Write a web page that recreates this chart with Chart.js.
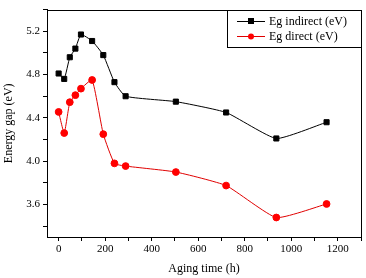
<!DOCTYPE html>
<html>
<head>
<meta charset="UTF-8">
<title>Energy gap vs aging time</title>
<script src="https://cdn.jsdelivr.net/npm/chart.js"></script>
<style>
  html, body { margin: 0; padding: 0; background: #fff; }
  #wrap { width: 366px; height: 278px; }
</style>
</head>
<body>
<div id="wrap"><canvas id="chart" width="366" height="278"></canvas></div>
<script>
// aging time (h)
const hours = [0, 24, 48, 72, 96, 144, 192, 240, 288, 504, 720, 936, 1152];
const egIndirect = [4.81, 4.76, 4.96, 5.04, 5.17, 5.11, 4.98, 4.73, 4.60, 4.55, 4.45, 4.21, 4.36];
const egDirect = [4.455, 4.26, 4.545, 4.61, 4.67, 4.75, 4.25, 3.98, 3.955, 3.90, 3.775, 3.48, 3.605];
const seriesNames = ['Eg indirect (eV)', 'Eg direct (eV)'];

const serif = "'Liberation Serif', 'DejaVu Serif', serif";

function pts(ys) { return hours.map((h, i) => ({ x: h, y: ys[i] })); }

// frame + legend box drawn inside the plot
const frameAndLegend = {
  id: 'frameAndLegend',
  afterDraw(chart) {
    const { ctx, chartArea: a } = chart;
    ctx.save();
    ctx.strokeStyle = '#000';
    ctx.lineWidth = 1;
    ctx.strokeRect(Math.round(a.left) + 0.5, Math.round(a.top) + 0.5, Math.round(a.right - a.left), Math.round(a.bottom - a.top));

    const bx = 227, by = Math.round(a.top), bw = Math.round(a.right) - bx, bh = 37;
    ctx.fillStyle = '#fff';
    ctx.fillRect(bx + 0.5, by + 0.5, bw, bh);
    ctx.strokeRect(bx + 0.5, by + 0.5, bw, bh);
    ctx.font = '12px ' + serif;
    ctx.textBaseline = 'middle';
    chart.data.datasets.forEach((ds, i) => {
      const y = by + 11 + i * 15;
      ctx.strokeStyle = ds.borderColor;
      ctx.beginPath();
      ctx.moveTo(237, y + 0.5);
      ctx.lineTo(265, y + 0.5);
      ctx.stroke();
      ctx.fillStyle = ds.pointBackgroundColor;
      if (ds.pointStyle === 'rect') {
        ctx.fillRect(248, y - 3, 6, 6);
      } else {
        ctx.beginPath();
        ctx.arc(251, y + 0.5, 3, 0, Math.PI * 2);
        ctx.fill();
      }
      ctx.fillStyle = '#000';
      ctx.fillText(ds.label, 269, y + 1);
    });
    ctx.restore();
  }
};

new Chart(document.getElementById('chart'), {
  type: 'line',
  data: {
    datasets: [
      {
        label: seriesNames[0], data: pts(egIndirect),
        borderColor: '#000', backgroundColor: '#000', pointBackgroundColor: '#000',
        pointStyle: 'rect', pointRadius: 3.6, borderWidth: 1, tension: 0.15
      },
      {
        label: seriesNames[1], data: pts(egDirect),
        borderColor: '#e00000', backgroundColor: '#ff0000', pointBackgroundColor: '#ff0000',
        pointBorderColor: '#ff0000',
        pointStyle: 'circle', pointRadius: 3.4, borderWidth: 1, tension: 0.15
      }
    ]
  },
  options: {
    responsive: false,
    animation: false,
    layout: { padding: { top: 6, right: 5, left: 0, bottom: 0 } },
    plugins: { legend: { display: false }, tooltip: { enabled: false } },
    scales: {
      x: {
        type: 'linear', min: -50, max: 1300,
        ticks: {
          stepSize: 100, includeBounds: false, autoSkip: false, maxRotation: 0,
          color: '#000', font: { family: serif, size: 11 }, padding: 2,
          callback: v => (v % 200 === 0 && v < 1300) ? String(v) : ''
        },
        grid: { drawOnChartArea: false, tickLength: 4, color: '#000' },
        border: { color: '#000' },
        title: { display: true, text: 'Aging time (h)', color: '#000', font: { family: serif, size: 12 }, padding: { top: 4, bottom: 2 } },
        afterFit: s => { s.height = 41; }
      },
      y: {
        min: 3.3, max: 5.4,
        ticks: {
          stepSize: 0.2, includeBounds: false, autoSkip: false,
          color: '#000', font: { family: serif, size: 11 }, padding: 3,
          callback: v => (Math.round(v * 10) % 4 === 0) ? v.toFixed(1) : ''
        },
        grid: { drawOnChartArea: false, tickLength: 4, color: '#000' },
        border: { color: '#000' },
        title: { display: true, text: 'Energy gap (eV)', color: '#000', font: { family: serif, size: 12 }, padding: { top: 2, bottom: 4 } },
        afterFit: s => { s.width = 47; }
      }
    }
  },
  plugins: [frameAndLegend]
});
</script>
</body>
</html>
